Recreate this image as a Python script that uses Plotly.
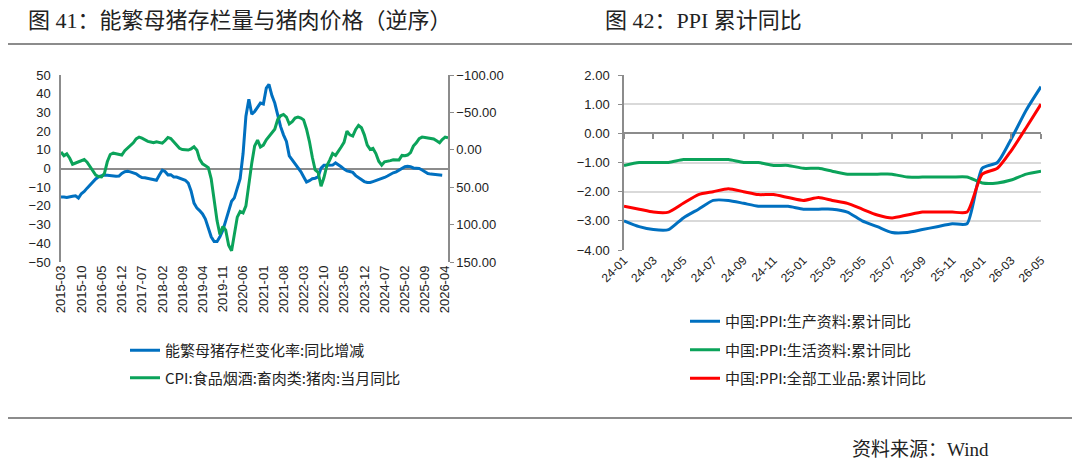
import plotly.graph_objects as go
import pandas as pd

# the page body has an 8px margin, so the figure is placed at (8, 8)
OFF = 8
W, H = 1080 - OFF, 470 - OFF

# ---- figure 41: sow inventory vs pork price (left) ----
months41 = pd.date_range("2015-03-01", "2026-05-01", freq="MS")

# 能繁母猪存栏变化率:同比增减 (left axis), 2015-03 .. 2026-03
sow_yoy = [
    -15.3, -15.2, -15.5, -15.0, -14.8, -14.6, -15.8, -13.5, -12.3, -10.5,
    -8.7, -7.1, -5.6, -4.4, -3.8, -3.5, -3.6, -3.9, -4.0, -4.2,
    -4.0, -2.6, -1.7, -1.5, -1.8, -2.2, -2.8, -4.0, -4.8, -5.0,
    -5.3, -5.6, -6.1, -6.3, -3.5, -0.9, -1.6, -3.4, -3.3, -4.5,
    -4.6, -5.1, -5.7, -6.3, -7.8, -12.0, -18.5, -21.2, -22.5, -24.3,
    -27.0, -31.5, -36.5, -39.0, -39.0, -36.5, -33.0, -28.0, -22.5, -17.5,
    -15.7, -10.5, -5.5, 8.0, 28.0, 37.0, 29.0, 30.5, 32.8, 35.0,
    34.5, 43.0, 45.0, 39.0, 35.0, 28.0, 22.5, 18.0, 14.5, 6.8,
    4.6, 3.1, 0.6, -1.8, -4.4, -7.2, -6.5, -5.5, -5.2, -4.5,
    0.2, 1.7, 1.7, 1.7, 1.8, 3.0, 2.2, 1.0, -0.3, -1.3,
    -1.6, -2.1, -3.8, -4.8, -6.0, -7.0, -7.5, -7.5, -7.0, -6.5,
    -6.0, -5.5, -4.8, -4.0, -3.0, -2.3, -1.8, -0.8, 0.3, 1.0,
    1.2, 1.0, 0.3, 0.0, 0.0, -0.8, -2.0, -2.7, -3.0, -3.2,
    -3.4, -3.6, -3.6,
]

# CPI:食品烟酒:畜肉类:猪肉:当月同比 (right axis, reversed), 2015-03 .. 2026-05
pork_cpi = [
    3.0, 8.0, 5.5, 11.3, 19.3, 17.5, 16.0, 14.3, 13.0, 16.5,
    23.0, 29.5, 33.8, 35.8, 36.3, 31.5, 16.0, 6.3, 4.5, 5.3,
    6.0, 7.0, 1.3, -2.5, -6.3, -9.3, -14.5, -17.0, -15.5, -12.8,
    -11.3, -10.5, -9.5, -10.8, -9.8, -8.8, -12.0, -16.5, -15.0, -10.5,
    -5.5, -2.0, -0.3, 0.3, 0.3, -1.3, -4.0, 0.5, 12.5, 18.8,
    21.8, 23.8, 38.8, 65.0, 95.0, 113.3, 102.5, 107.5, 127.5, 135.0,
    110.0, 90.0, 82.5, 84.3, 75.0, 45.0, 17.5, -5.0, -13.0, -3.8,
    -6.3, -13.3, -17.5, -22.0, -27.5, -40.5, -45.5, -47.3, -43.8, -34.5,
    -37.5, -42.5, -43.8, -42.5, -40.0, -27.5, -11.3, 10.0, 27.0, 30.0,
    48.8, 37.5, 21.3, 13.8, 5.0, 7.5, 1.3, -3.8, -10.0, -25.0,
    -20.0, -18.3, -27.3, -32.5, -29.5, -20.0, -6.3, -0.5, -1.8, 5.0,
    15.3, 20.5, 16.0, 15.5, 14.5, 13.3, 13.0, 13.5, 7.5, 8.0,
    7.0, 3.8, -5.0, -9.3, -15.0, -17.0, -16.5, -15.8, -15.0, -14.5,
    -12.0, -9.5, -13.8, -17.0, -16.0,
]

# ---- figure 42: PPI cumulative YoY (right) ----
months42 = pd.date_range("2024-01-01", "2026-05-01", freq="MS")

ppi_producer = [
    -3.0, -3.2, -3.3, -3.3, -2.9, -2.6, -2.3, -2.3, -2.4, -2.5,
    -2.5, -2.5, -2.6, -2.6, -2.6, -2.7, -3.0, -3.2, -3.4, -3.4,
    -3.3, -3.2, -3.1, -3.1, -1.2, -1.0, -0.2, 0.8, 1.6,
]
ppi_consumer = [
    -1.1, -1.0, -1.0, -1.0, -0.9, -0.9, -0.9, -0.9, -1.0, -1.0,
    -1.1, -1.1, -1.2, -1.2, -1.3, -1.4, -1.4, -1.4, -1.4, -1.5,
    -1.5, -1.5, -1.5, -1.5, -1.7, -1.7, -1.6, -1.4, -1.3,
]
ppi_all = [
    -2.5, -2.6, -2.7, -2.7, -2.4, -2.1, -2.0, -1.9, -2.0, -2.1,
    -2.1, -2.2, -2.3, -2.2, -2.3, -2.4, -2.6, -2.8, -2.9, -2.8,
    -2.7, -2.7, -2.7, -2.7, -1.4, -1.2, -0.6, 0.2, 1.0,
]

BLUE = "#0070C0"
GREEN = "#0BA35A"
RED = "#FF0000"
AXIS = "#8C8C8C"
TXT = "#222222"
CJK = "Noto Sans CJK SC"
SERIF = "Liberation Serif, Noto Sans CJK SC"
SANS = "Liberation Sans, Arial, sans-serif"


def px(x):
    # screen pixel -> paper fraction
    return (x - OFF) / W


def py(y):
    return 1 - (y - OFF) / H


fig = go.Figure()

fig.add_trace(go.Scatter(
    x=months41[:len(sow_yoy)], y=sow_yoy, name="能繁母猪存栏变化率:同比增减",
    mode="lines", line=dict(color=BLUE, width=3), xaxis="x", yaxis="y",
    legend="legend", legendgroup="a",
))
fig.add_trace(go.Scatter(
    x=months41[:len(pork_cpi)], y=pork_cpi, name="CPI:食品烟酒:畜肉类:猪肉:当月同比",
    mode="lines", line=dict(color=GREEN, width=3), xaxis="x", yaxis="y2",
    legend="legend", legendgroup="b",
))

for name, vals, col, grp in [
    ("中国:PPI:生产资料:累计同比", ppi_producer, BLUE, "c"),
    ("中国:PPI:生活资料:累计同比", ppi_consumer, GREEN, "d"),
    ("中国:PPI:全部工业品:累计同比", ppi_all, RED, "e"),
]:
    fig.add_trace(go.Scatter(
        x=months42, y=vals, name=name, mode="lines",
        line=dict(color=col, width=3, shape="spline", smoothing=0.6),
        xaxis="x2", yaxis="y3", legend="legend2", legendgroup=grp,
    ))

# empty carrier so the tick-only axis x3 (ticks on the 0.00 line) gets drawn
fig.add_trace(go.Scatter(
    x=months42, y=[None] * len(months42), mode="lines", xaxis="x3",
    yaxis="y3", showlegend=False, hoverinfo="skip",
))

tickfont = dict(family=SANS, size=13, color=TXT)

# y pixel of the 0.00 line in figure 42 (2.00 at 75px, -4.00 at 250px)
zero42 = 75 + (250 - 75) * 2 / 6

fig.update_layout(
    width=W, height=H,
    margin=dict(l=0, r=0, t=0, b=0),
    paper_bgcolor="white", plot_bgcolor="rgba(0,0,0,0)",
    showlegend=True,
    xaxis=dict(
        domain=[px(61), px(448)], anchor="y", type="date",
        range=["2015-03-01", "2026-05-01"],
        tick0="2015-03-01", dtick="M7", tickformat="%Y-%m",
        tickangle=-90, tickfont=dict(family=SANS, size=13, color=TXT),
        showgrid=False, showline=False, ticks="", zeroline=False,
        automargin=False,
    ),
    yaxis=dict(
        domain=[py(262), py(75)], anchor="x", range=[-50, 50], dtick=10,
        showgrid=False, showline=True, linecolor=AXIS, linewidth=1.5,
        zeroline=True, zerolinecolor=AXIS, zerolinewidth=1.5,
        ticks="", tickfont=tickfont, ticklabelstandoff=6, automargin=False,
    ),
    yaxis2=dict(
        overlaying="y", side="right", anchor="x", range=[150, -100], dtick=50,
        tickformat=".2f", showgrid=False, showline=True, linecolor=AXIS,
        linewidth=1.5, ticks="outside", ticklen=4, tickcolor=AXIS,
        zeroline=False, tickfont=tickfont, automargin=False,
    ),
    xaxis2=dict(
        domain=[px(624), px(1041)], anchor="y3", type="date",
        range=["2024-01-01", "2026-05-01"],
        tick0="2024-01-01", dtick="M2", tickformat="%y-%m",
        tickangle=-45, tickfont=dict(family=SANS, size=12, color=TXT),
        showgrid=False, showline=False, ticks="", zeroline=False,
        automargin=False,
    ),
    # tick marks hanging below the 0.00 line of figure 42
    xaxis3=dict(
        overlaying="x2", anchor="free", position=py(zero42), type="date",
        range=["2024-01-01", "2026-05-01"],
        tick0="2024-03-01", dtick="M2", ticks="outside", ticklen=5,
        tickcolor=AXIS, tickwidth=1.5, showticklabels=False,
        showgrid=False, showline=False, zeroline=False,
    ),
    yaxis3=dict(
        domain=[py(250), py(75)], anchor="x2", range=[-4, 2], dtick=1,
        tickformat=".2f", showgrid=True, gridcolor="#D9D9D9", gridwidth=1.5,
        showline=True, linecolor=AXIS, linewidth=1.5,
        ticks="outside", ticklen=4, tickcolor=AXIS,
        zeroline=True, zerolinecolor=AXIS, zerolinewidth=1.5,
        tickfont=tickfont, ticklabelstandoff=6, automargin=False,
    ),
    legend=dict(
        x=px(125), y=py(334), xanchor="left", yanchor="top",
        orientation="v", traceorder="grouped", tracegroupgap=5,
        font=dict(family=CJK, size=15, color=TXT), bgcolor="rgba(0,0,0,0)",
    ),
    legend2=dict(
        x=px(685), y=py(305), xanchor="left", yanchor="top",
        orientation="v", traceorder="grouped", tracegroupgap=6,
        font=dict(family=CJK, size=15, color=TXT), bgcolor="rgba(0,0,0,0)",
    ),
)

# titles and source
fig.add_annotation(
    text="图 41：能繁母猪存栏量与猪肉价格（逆序）", x=px(26), y=py(20),
    xref="paper", yref="paper", xanchor="left", yanchor="middle",
    showarrow=False, font=dict(family=SERIF, size=22, color=TXT),
)
fig.add_annotation(
    text="图 42：PPI 累计同比", x=px(603), y=py(20),
    xref="paper", yref="paper", xanchor="left", yanchor="middle",
    showarrow=False, font=dict(family=SERIF, size=22, color=TXT),
)
fig.add_annotation(
    text="资料来源：Wind", x=px(991), y=py(449),
    xref="paper", yref="paper", xanchor="right", yanchor="middle",
    showarrow=False, font=dict(family=SERIF, size=19, color=TXT),
)

# header and footer rules
for yy in (44, 418):
    fig.add_shape(type="line", xref="paper", yref="paper",
                  x0=px(2), x1=px(1077), y0=py(yy), y1=py(yy),
                  line=dict(color="#666666", width=1.5))

fig.write_html("out.html")
